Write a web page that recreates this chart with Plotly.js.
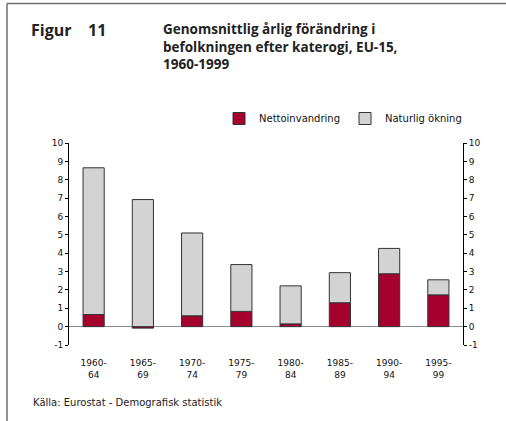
<!DOCTYPE html>
<html>
<head>
<meta charset="utf-8">
<script src="https://cdn.plot.ly/plotly-3.0.1.min.js"></script>
<style>
  html, body { margin: 0; padding: 0; background: #fff; }
  #chart { width: 506px; height: 421px; }
</style>
</head>
<body>
<div id="chart"></div>
<script>
// Genomsnittlig årlig förändring i befolkningen, EU-15, 1960-1999
const periods = ['1960-<br>64', '1965-<br>69', '1970-<br>74', '1975-<br>79',
                 '1980-<br>84', '1985-<br>89', '1990-<br>94', '1995-<br>99'];
const nettoinvandring = [0.66, -0.08, 0.59, 0.83, 0.15, 1.30, 2.88, 1.73];
const naturligOkning  = [7.99, 6.92, 4.51, 2.55, 2.07, 1.64, 1.38, 0.82];
const yTickVals = [-1, 0, 1, 2, 3, 4, 5, 6, 7, 8, 9, 10];
const yTickText = ['-1', '0', '1', '2', '3', '4', '5', '6', '7', '8', '9', '10'];

const RED = '#A6002F', GREY = '#D3D3D3', EDGE = '#333';
const W = 506, H = 421;
const M = { l: 69, r: 43, t: 143, b: 76 };

// pixel -> paper helpers for the page furniture around the plot
const pw = W - M.l - M.r, ph = H - M.t - M.b;
const px = x => (x - M.l) / pw;
const py = y => (H - M.b - y) / ph;

const traces = [
    { type: 'bar', x: periods, y: nettoinvandring, name: 'Nettoinvandring',
      marker: { color: RED, line: { color: EDGE, width: 1 } }, hoverinfo: 'skip' },
    { type: 'bar', x: periods, y: naturligOkning, name: 'Naturlig ökning',
      marker: { color: GREY, line: { color: EDGE, width: 1 } }, hoverinfo: 'skip' },
    // empty trace so the right-hand axis is drawn
    { type: 'scatter', x: [], y: [], yaxis: 'y2', showlegend: false, hoverinfo: 'skip' },
];

const yCommon = {
    range: [-1, 10], tickvals: yTickVals, ticktext: yTickText,
    showline: true, linecolor: '#000', linewidth: 1,
    ticks: 'outside', ticklen: 3, tickcolor: '#000', tickwidth: 1,
    showgrid: false, fixedrange: true,
    tickfont: { family: 'DejaVu Sans, sans-serif', size: 9, color: '#111' },
};

const layout = {
    width: W, height: H,
    paper_bgcolor: '#fff', plot_bgcolor: '#fff',
    margin: M,
    barmode: 'relative',
    bargap: 0.57,
    font: { family: 'DejaVu Sans, sans-serif', color: '#111' },
    xaxis: {
        showline: false, ticks: '', showgrid: false, zeroline: false,
        ticklabelstandoff: 11,
        tickfont: { family: 'DejaVu Sans, sans-serif', size: 9, color: '#111' },
        fixedrange: true,
    },
    yaxis: Object.assign({}, yCommon, {
        side: 'left', zeroline: true, zerolinecolor: '#8c8c8c', zerolinewidth: 1.5,
    }),
    yaxis2: Object.assign({}, yCommon, {
        side: 'right', overlaying: 'y', zeroline: false,
    }),
    showlegend: true,
    legend: {
        orientation: 'h', x: px(219), xanchor: 'left', y: py(104), yanchor: 'top',
        font: { family: 'DejaVu Sans, sans-serif', size: 10, color: '#111' },
        bgcolor: 'rgba(0,0,0,0)', traceorder: 'normal',
        itemwidth: 30,
    },
    shapes: [
        { type: 'line', xref: 'paper', yref: 'paper', x0: px(7), x1: px(506), y0: py(3.5), y1: py(3.5),
          line: { color: '#707070', width: 1.5 } },
        { type: 'line', xref: 'paper', yref: 'paper', x0: px(7), x1: px(7), y0: py(3.5), y1: py(421),
          line: { color: '#707070', width: 1.5 } },
    ],
    annotations: [
        { xref: 'paper', yref: 'paper', x: px(29), y: py(17), xanchor: 'left', yanchor: 'top',
          text: '<b>Figur&nbsp;&nbsp;&nbsp;&nbsp;11</b>',
          showarrow: false, align: 'left',
          font: { family: 'Open Sans, sans-serif', size: 16, color: '#222' } },
        { xref: 'paper', yref: 'paper', x: px(161), y: py(18), xanchor: 'left', yanchor: 'top',
          text: '<b>Genomsnittlig årlig förändring i<br>befolkningen efter katerogi, EU-15,<br>1960-1999</b>',
          showarrow: false, align: 'left',
          font: { family: 'Open Sans, sans-serif', size: 13.5, color: '#222' } },
        { xref: 'paper', yref: 'paper', x: px(31), y: py(402), xanchor: 'left', yanchor: 'middle',
          text: 'Källa: Eurostat - Demografisk statistik', showarrow: false, align: 'left',
          font: { family: 'DejaVu Sans, sans-serif', size: 10, color: '#222' } },
    ],
};

Plotly.newPlot('chart', traces, layout, { displayModeBar: false, staticPlot: true });
</script>
</body>
</html>
